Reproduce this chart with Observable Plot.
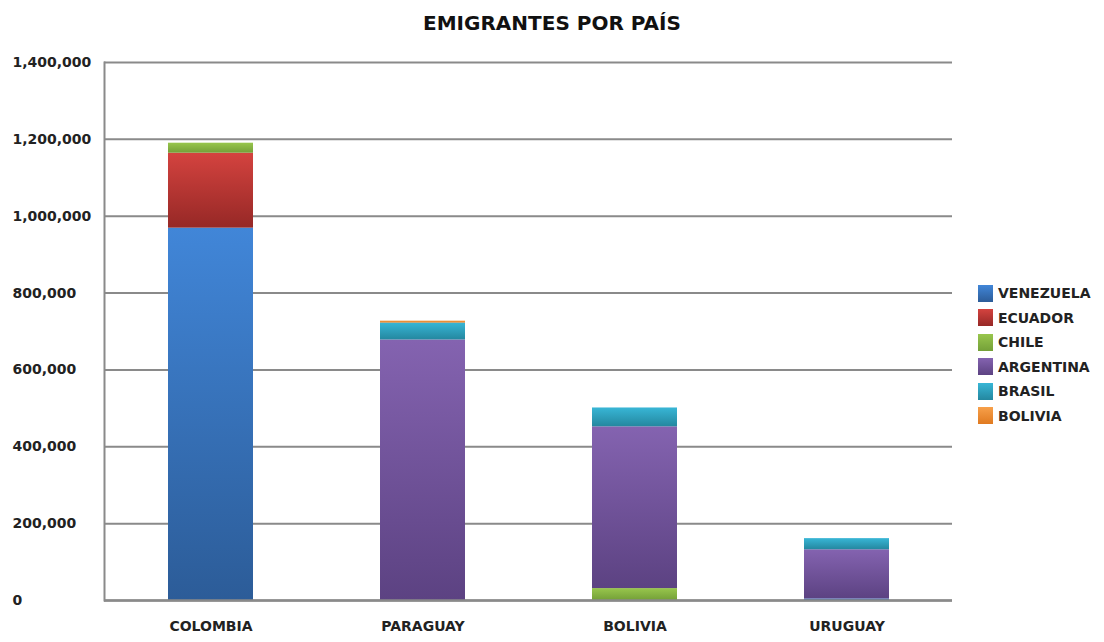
<!DOCTYPE html>
<html>
<head>
<meta charset="utf-8">
<script src="https://cdn.jsdelivr.net/npm/d3@7"></script>
<script src="https://cdn.jsdelivr.net/npm/@observablehq/plot@0.6"></script>
<style>
  body { margin: 0; background: #fff; font-family: "DejaVu Sans", sans-serif; }
  #wrap { position: relative; width: 1104px; height: 642px; overflow: hidden; }
  #title { height: 40px; box-sizing: border-box; padding-top: 12px; line-height: 22px; text-align: center; font-weight: bold; font-size: 20px; color: #111; }
  #legend { position: absolute; left: 978px; top: 281px; }
  .row { display: flex; align-items: center; height: 24.5px; }
  .sw { width: 15px; height: 17px; margin-right: 5px; }
  .lab { font-weight: bold; font-size: 14px; color: #222; }
  #defs { position: absolute; width: 0; height: 0; }
</style>
</head>
<body>
<svg id="defs" width="0" height="0"><defs></defs></svg>
<div id="wrap">
  <div id="title">EMIGRANTES POR PAÍS</div>
  <div id="chart"></div>
  <div id="legend"></div>
</div>
<script>
// Categories (destination countries) and series (origin countries)
const paises = ["COLOMBIA", "PARAGUAY", "BOLIVIA", "URUGUAY"];
const origenes = ["VENEZUELA", "ECUADOR", "CHILE", "ARGENTINA", "BRASIL", "BOLIVIA"];

// Series values per destination (same order as paises)
const venezuela = [969000, 0, 0, 4000];
const ecuador   = [195000, 0, 0, 0];
const chile     = [26000, 0, 31000, 0];
const argentina = [0, 678000, 421000, 128000];
const brasil    = [0, 44000, 49000, 29000];
const bolivia   = [0, 5000, 0, 0];

// Y tick values
const ticksY = [0, 200000, 400000, 600000, 800000, 1000000, 1200000, 1400000];

// Colour gradients (top, bottom) per series
const colores = [
  ["#4186d8", "#2c5c98"],
  ["#d4433f", "#962826"],
  ["#98c64d", "#74a038"],
  ["#8463b0", "#5c4282"],
  ["#38b6d6", "#24879f"],
  ["#f7a04a", "#e07a20"]
];

const serie = [venezuela, ecuador, chile, argentina, brasil, bolivia];
const datos = [];
paises.forEach((p, i) => {
  origenes.forEach((o, j) => {
    datos.push({pais: p, origen: o, valor: serie[j][i]});
  });
});

// Gradients
const defs = d3.select("#defs defs");
colores.forEach((c, i) => {
  const g = defs.append("linearGradient").attr("id", "g" + i)
    .attr("x1", 0).attr("y1", 0).attr("x2", 0).attr("y2", 1);
  g.append("stop").attr("offset", "0%").attr("stop-color", c[0]);
  g.append("stop").attr("offset", "100%").attr("stop-color", c[1]);
});

const chart = Plot.plot({
  width: 1104,
  height: 602,
  marginTop: 22,
  marginBottom: 42,
  marginLeft: 104,
  marginRight: 152,
  style: { fontFamily: "DejaVu Sans, sans-serif", fontWeight: "bold", fontSize: "14px", color: "#222", background: "#fff" },
  x: { domain: paises, paddingInner: 0.6, paddingOuter: 0.3, label: null },
  y: { domain: [0, 1400000], label: null, axis: null },
  color: { domain: origenes, range: colores.map((c, i) => `url(#g${i})`) },
  marks: [
    Plot.ruleY(ticksY, { stroke: "#8a8a8a", strokeWidth: 2 }),
    Plot.barY(datos, Plot.stackY({ x: "pais", y: "valor", fill: "origen", order: origenes })),
    Plot.ruleY([0], { stroke: "#8a8a8a", strokeWidth: 2.5 }),
    Plot.frame({ anchor: "left", stroke: "#8a8a8a", strokeWidth: 2 }),
    Plot.text(ticksY, { y: d => d, text: d => d3.format(",")(d), frameAnchor: "left", textAnchor: "start", dx: -92, fill: "#222", fontSize: 14 }),
    Plot.axisX({ tickSize: 0, tickPadding: 21, fontSize: 14, letterSpacing: 1 }),
  ]
});
document.getElementById("chart").appendChild(chart);

// Legend
const leg = d3.select("#legend");
origenes.forEach((o, i) => {
  const r = leg.append("div").attr("class", "row");
  r.append("div").attr("class", "sw").style("background", `linear-gradient(${colores[i][0]}, ${colores[i][1]})`);
  r.append("div").attr("class", "lab").text(o);
});
</script>
</body>
</html>
